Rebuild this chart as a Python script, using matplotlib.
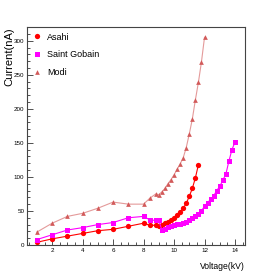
import numpy as np
import matplotlib
matplotlib.use('Agg')
import matplotlib.pyplot as plt
from matplotlib.lines import Line2D
from matplotlib.ticker import MultipleLocator

plt.rcParams['font.family'] = ['Liberation Sans', 'DejaVu Sans']

# Asahi
v_asahi = [1, 2, 3, 4, 5, 6, 7, 8, 8.4, 8.8, 9.0, 9.2, 9.4, 9.6, 9.8, 10.0,
           10.2, 10.4, 10.6, 10.8, 11.0, 11.2, 11.4, 11.6]
i_asahi = [4, 9, 13, 17, 21, 23, 27.5, 32, 29, 29, 27.5, 29, 32, 34, 36, 40,
           43.5, 48.5, 54, 61, 71.5, 83, 98.5, 118]

# Saint Gobain
v_sg = [1, 2, 3, 4, 5, 6, 7, 8, 8.4, 8.8, 9.0, 9.2, 9.4, 9.6, 9.8, 10.0,
        10.2, 10.4, 10.6, 10.8, 11.0, 11.2, 11.4, 11.6, 11.8, 12.0, 12.2,
        12.4, 12.6, 12.8, 13.0, 13.2, 13.4, 13.6, 13.8, 14.0]
i_sg = [8, 15, 22, 25.5, 30, 33, 40, 42, 37, 36, 36, 22, 24, 26, 27.5, 29,
        30.4, 31, 32, 34, 37, 39.5, 43, 45.5, 50, 57, 62,
        67, 72, 80, 86, 95, 104, 123, 140, 151]

# Modi
v_modi = [1, 2, 3, 4, 5, 6, 7, 8, 8.4, 8.8, 9.0, 9.2, 9.4, 9.6, 9.8, 10.0,
          10.2, 10.4, 10.6, 10.8, 11.0, 11.2, 11.4, 11.6, 11.8, 12.0]
i_modi = [19, 32, 42, 46.5, 54, 63, 60, 60, 68.5, 75, 74, 78, 83, 90, 96, 103,
          111, 119, 128, 143, 163, 185, 213, 239, 269, 305]

c_asahi = '#ff0000'
c_sg = '#ff00ff'
c_modi = '#d25a5a'

fig = plt.figure(figsize=(2.73, 2.73), dpi=100)
ax = fig.add_axes([0.099, 0.1026, 0.798, 0.798])

ax.plot(v_modi, i_modi, '-', color='#e49a9a', lw=0.8)
ax.plot(v_modi, i_modi, '^', color=c_modi, ms=3.4, mew=0)
ax.plot(v_asahi, i_asahi, '-', color=c_asahi, lw=0.8)
ax.plot(v_asahi, i_asahi, 'o', color=c_asahi, ms=3.8, mew=0)
ax.plot(v_sg, i_sg, '-', color=c_sg, lw=0.8)
ax.plot(v_sg, i_sg, 's', color=c_sg, ms=3.6, mew=0)

ax.set_xlim(0.35, 14.65)
ax.set_ylim(0, 320)

ax.xaxis.set_major_locator(MultipleLocator(2))
ax.xaxis.set_minor_locator(MultipleLocator(0.5))
ax.yaxis.set_major_locator(MultipleLocator(50))
ax.yaxis.set_minor_locator(MultipleLocator(10))
ax.tick_params(which='both', direction='in', top=False, right=False,
               labelsize=4.5, pad=2, color='#333333', width=0.6)
ax.tick_params(which='major', length=4)
ax.tick_params(which='minor', length=2)
for s in ax.spines.values():
    s.set_color('#444444')
    s.set_linewidth(0.8)

ax.set_ylabel('Current(nA)', fontsize=8)
ax.yaxis.set_label_coords(-0.06, 1.0)
ax.yaxis.label.set_horizontalalignment('right')
ax.set_xlabel('Voltage(kV)', fontsize=6.2)
ax.xaxis.set_label_coords(1.0, -0.08)
ax.xaxis.label.set_horizontalalignment('right')

handles = [
    Line2D([], [], ls='none', marker='o', color=c_asahi, ms=3.8, mew=0),
    Line2D([], [], ls='none', marker='s', color=c_sg, ms=3.6, mew=0),
    Line2D([], [], ls='none', marker='^', color=c_modi, ms=3.4, mew=0),
]
ax.legend(handles, ['Asahi', 'Saint Gobain', 'Modi'], loc='upper left',
          bbox_to_anchor=(0.0, 1.0), frameon=False, fontsize=6.5,
          handlelength=1.0, handletextpad=0.6, labelspacing=0.95,
          borderaxespad=0.2)

fig.savefig('out.png', dpi=100)
